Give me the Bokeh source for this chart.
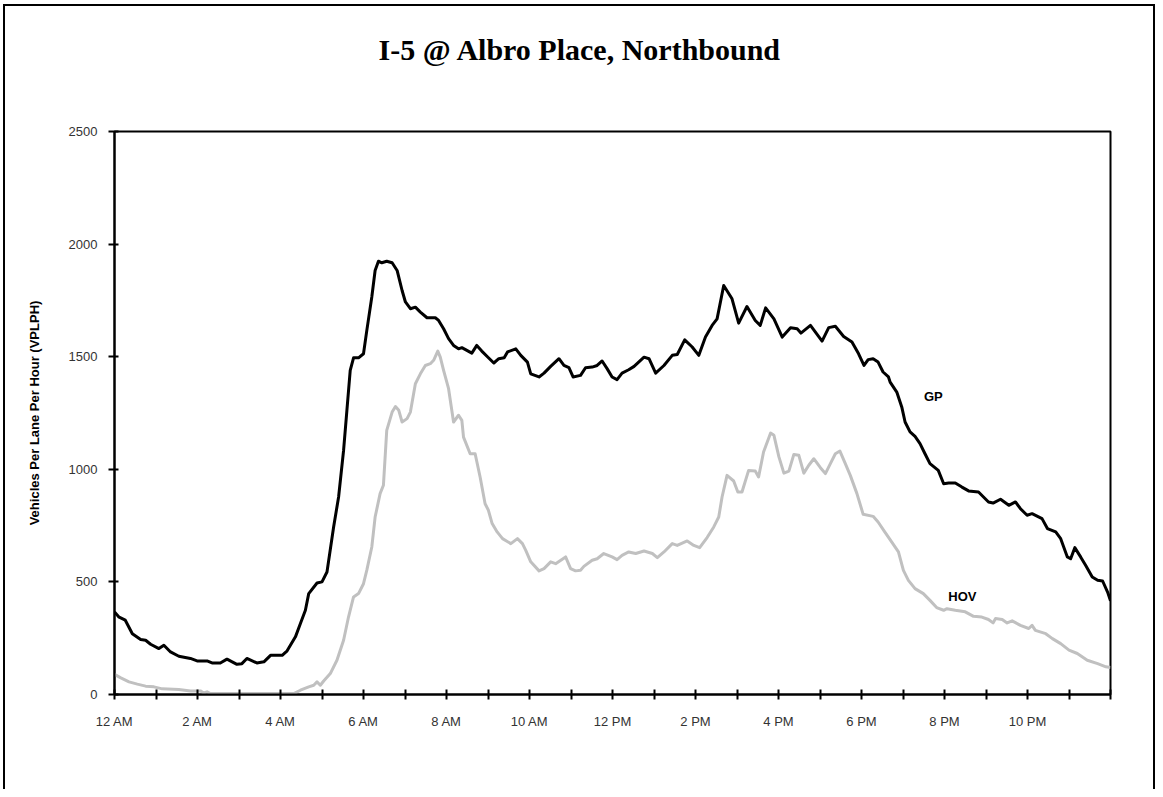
from bokeh.plotting import figure
from bokeh.models import Range1d, FixedTicker, ColumnDataSource, Title
from bokeh.core.properties import value
from bokeh.embed import file_html
from bokeh.resources import INLINE

# ---------------- data ----------------
chart_title = "I-5 @ Albro Place, Northbound"
y_title = "Vehicles Per Lane Per Hour (VPLPH)"
series_names = ["GP", "HOV"]

gp_hours = [0.00, 0.10, 0.26, 0.43, 0.63, 0.75, 0.87, 1.07, 1.19, 1.35, 1.55, 1.83, 1.99,
            2.23, 2.35, 2.55, 2.71, 2.95, 3.07, 3.19, 3.43, 3.60, 3.76, 4.04, 4.16, 4.36,
            4.48, 4.60, 4.68, 4.88, 5.00, 5.12, 5.28, 5.40, 5.52, 5.60, 5.68, 5.76, 5.88,
            6.00, 6.08, 6.20, 6.28, 6.36, 6.44, 6.56, 6.69, 6.81, 6.93, 7.01, 7.13, 7.25,
            7.37, 7.53, 7.73, 7.81, 7.93, 8.05, 8.17, 8.29, 8.37, 8.61, 8.73, 8.85, 8.98,
            9.14, 9.26, 9.39, 9.47, 9.67, 9.79, 9.95, 10.03, 10.23, 10.35, 10.51, 10.71,
            10.83, 10.95, 11.05, 11.23, 11.35, 11.51, 11.63, 11.75, 11.87, 11.99, 12.11,
            12.23, 12.39, 12.52, 12.76, 12.88, 13.04, 13.24, 13.44, 13.56, 13.74, 13.92,
            14.08, 14.24, 14.40, 14.52, 14.68, 14.88, 15.04, 15.24, 15.44, 15.56, 15.69,
            15.89, 16.09, 16.29, 16.45, 16.54, 16.77, 17.05, 17.21, 17.37, 17.57, 17.77,
            17.93, 18.06, 18.16, 18.28, 18.40, 18.52, 18.65, 18.69, 18.85, 18.97, 19.05,
            19.17, 19.29, 19.41, 19.53, 19.65, 19.85, 19.98, 20.10, 20.26, 20.42, 20.58,
            20.82, 20.94, 21.06, 21.17, 21.35, 21.55, 21.71, 21.83, 21.99, 22.11, 22.35,
            22.48, 22.68, 22.80, 22.96, 23.04, 23.14, 23.28, 23.40, 23.56, 23.69, 23.81,
            23.93, 24.00]
gp_vplph = [367, 345, 330, 270, 244, 241, 223, 204, 219, 189, 170, 160, 149,
            149, 140, 140, 157, 134, 137, 160, 140, 145, 174, 174, 194, 256,
            315, 374, 448, 495, 500, 544, 744, 877, 1084, 1262, 1439, 1495, 1495,
            1513, 1617, 1765, 1883, 1924, 1917, 1924, 1917, 1883, 1794, 1743, 1713, 1720,
            1698, 1673, 1673, 1661, 1624, 1580, 1550, 1535, 1540, 1516, 1550, 1525, 1501,
            1472, 1491, 1495, 1521, 1535, 1506, 1476, 1424, 1410, 1427, 1457, 1491,
            1461, 1451, 1410, 1417, 1451, 1454, 1461, 1481, 1447, 1410, 1398,
            1427, 1442, 1457, 1498, 1491, 1427, 1461, 1506, 1510, 1575, 1543,
            1506, 1587, 1639, 1668, 1816, 1757, 1649, 1723, 1661, 1639, 1717,
            1668, 1587, 1629, 1624, 1605, 1639, 1569, 1629, 1635, 1590, 1565,
            1513, 1461, 1487, 1491, 1476, 1432, 1410, 1387, 1343, 1277, 1210,
            1166, 1146, 1114, 1069, 1025, 995, 936, 939, 939, 921, 904,
            899, 877, 855, 850, 867, 840, 855, 825, 796, 803, 781,
            737, 722, 692, 611, 603, 652, 611, 574, 522, 507, 504,
            455, 416]

hov_hours = [0.00, 0.14, 0.35, 0.55, 0.75, 0.95, 1.15, 1.55, 1.83, 2.07, 2.15, 2.23, 2.31,
             4.32, 4.48, 4.68, 4.80, 4.88, 4.96, 5.04, 5.20, 5.36, 5.52, 5.64, 5.76, 5.88,
             6.00, 6.08, 6.20, 6.28, 6.40, 6.48, 6.56, 6.69, 6.77, 6.85, 6.93, 7.05, 7.13,
             7.25, 7.37, 7.49, 7.61, 7.69, 7.79, 7.85, 7.93, 8.05, 8.17, 8.29, 8.37, 8.41,
             8.57, 8.69, 8.81, 8.93, 9.01, 9.10, 9.22, 9.35, 9.55, 9.71, 9.83, 9.91, 10.03,
             10.23, 10.35, 10.51, 10.63, 10.87, 10.99, 11.11, 11.23, 11.31, 11.51, 11.63,
             11.79, 11.99, 12.11, 12.23, 12.39, 12.56, 12.76, 12.96, 13.08, 13.24, 13.44,
             13.56, 13.80, 13.96, 14.10, 14.28, 14.44, 14.56, 14.64, 14.76, 14.92, 15.02,
             15.12, 15.28, 15.44, 15.52, 15.64, 15.81, 15.89, 16.01, 16.13, 16.25, 16.37,
             16.49, 16.61, 16.73, 16.85, 17.01, 17.13, 17.25, 17.37, 17.48, 17.61, 17.73,
             17.89, 18.04, 18.28, 18.40, 18.56, 18.73, 18.89, 19.01, 19.13, 19.29, 19.49,
             19.65, 19.81, 19.98, 20.06, 20.26, 20.50, 20.70, 20.90, 21.06, 21.17, 21.23,
             21.39, 21.51, 21.63, 21.83, 22.03, 22.11, 22.19, 22.44, 22.60, 22.80, 23.00,
             23.20, 23.44, 23.69, 23.89, 24.00]
hov_vplph = [90, 75, 56, 46, 37, 34, 25, 22, 16, 16, 7, 12, 4,
             4, 19, 34, 41, 56, 41, 60, 93, 152, 241, 345, 433, 448,
             492, 552, 655, 788, 892, 929, 1173, 1254, 1279, 1262, 1210, 1225, 1254,
             1380, 1424, 1461, 1469, 1484, 1525, 1498, 1439, 1358, 1210, 1240, 1217, 1143,
             1069, 1069, 966, 847, 818, 759, 722, 692, 670, 692, 670, 640, 589,
             549, 559, 589, 581, 611, 559, 549, 552, 569, 596, 603,
             626, 611, 599, 618, 633, 626, 637, 626, 608, 633, 670,
             662, 682, 662, 652, 697, 744, 788, 877, 973, 948, 899,
             899, 995, 992, 966, 1077, 1161, 1151, 1055, 983, 992, 1066,
             1062, 983, 1018, 1047, 1007, 981, 1025, 1069, 1081, 1025, 973,
             892, 800, 791, 766, 722, 677, 633, 551, 507, 470, 448,
             418, 386, 374, 381, 374, 367, 347, 344, 333, 318, 337,
             333, 318, 327, 307, 293, 307, 285, 270, 248, 226, 197,
             182, 152, 137, 123, 120]

tick_hours = list(range(25))
tick_labels = ["12 AM", "", "2 AM", "", "4 AM", "", "6 AM", "", "8 AM", "", "10 AM", "",
               "12 PM", "", "2 PM", "", "4 PM", "", "6 PM", "", "8 PM", "", "10 PM", "", ""]
y_ticks = [0, 500, 1000, 1500, 2000, 2500]

# ---------------- figure ----------------
p = figure(width=1155, height=789, output_backend="svg", toolbar_location=None,
           x_range=Range1d(0, 24), y_range=Range1d(0, 2500),
           min_border_left=114, min_border_right=45, min_border_top=131, min_border_bottom=95)
p.border_fill_color = None
p.background_fill_color = None
p.styles = {"background-color": "white",
            "box-shadow": "inset 3px 4px 0 0 white, inset 5px 6px 0 0 black, inset -2px 0 0 0 black"}
p.xgrid.visible = False
p.ygrid.visible = False
p.outline_line_color = "black"
p.outline_line_width = 2
p.outline_line_alpha = 1

# spacer between the frame and the title (keeps the title high up)
p.add_layout(Title(text=" ", text_font_size="1px", standoff=58), "above")

# title
p.title.text = chart_title
p.title.align = "left"
p.title.offset = 264
p.title.standoff = 10
p.title.text_font = "Liberation Serif"
p.title.text_font_style = "bold"
p.title.text_font_size = "30px"
p.title.text_color = "black"

hov_src = ColumnDataSource(dict(h=hov_hours, v=hov_vplph))
gp_src = ColumnDataSource(dict(h=gp_hours, v=gp_vplph))
p.line(x="h", y="v", source=hov_src, line_color="#c0c0c0", line_width=3, line_join="round")
p.line(x="h", y="v", source=gp_src, line_color="black", line_width=3, line_join="round")

# series labels
p.text(x=[19.73, 20.43], y=[1324, 436], text=series_names,
       text_font=value("Liberation Sans"), text_font_style="bold", text_font_size="13px",
       text_align="center", text_baseline="middle", text_color="black")

# axes
xa = p.xaxis[0]
xa.ticker = FixedTicker(ticks=tick_hours)
xa.major_label_overrides = {h: lab for h, lab in zip(tick_hours, tick_labels)}
ya = p.yaxis[0]
ya.ticker = FixedTicker(ticks=y_ticks)
for ax in (xa, ya):
    ax.axis_line_color = "black"
    ax.axis_line_width = 2
    ax.major_tick_line_color = "black"
    ax.major_tick_line_width = 2
    ax.minor_tick_line_color = None
    ax.major_label_text_font = "Liberation Sans"
    ax.major_label_text_font_size = "13px"
    ax.major_label_text_color = "#333333"
xa.major_tick_in = 5
xa.major_tick_out = 5
xa.major_label_standoff = 14
ya.major_tick_in = 4
ya.major_tick_out = 6
ya.major_label_standoff = 11
ya.axis_label = y_title
ya.axis_label_text_font = "Liberation Sans"
ya.axis_label_text_font_style = "bold"
ya.axis_label_text_font_size = "13px"
ya.axis_label_text_color = "black"
ya.axis_label_standoff = 24

open("out.html", "w").write(file_html(p, INLINE))
